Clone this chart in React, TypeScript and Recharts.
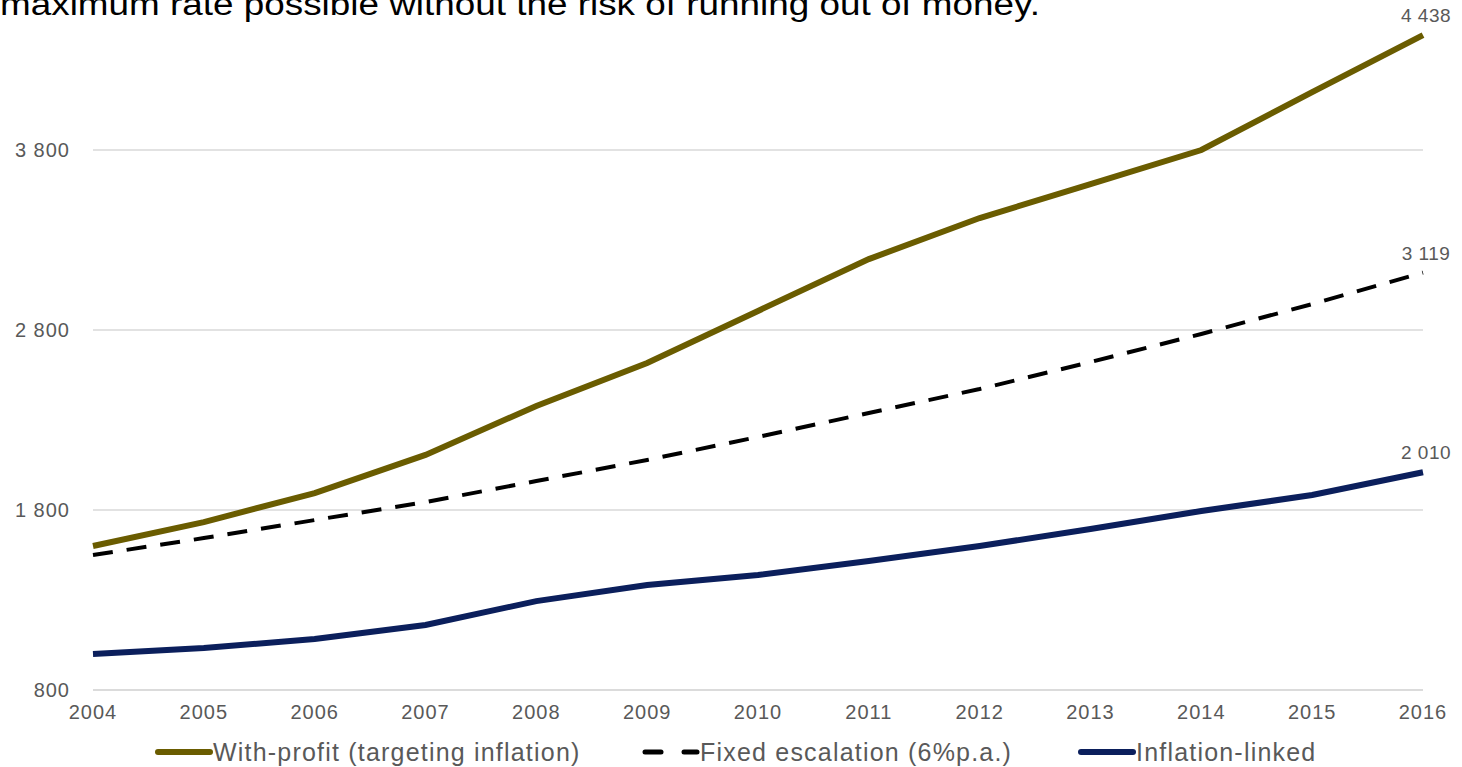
import React from 'react'
import { CartesianGrid, Line, LineChart, XAxis, YAxis } from 'recharts'

const years = [2004, 2005, 2006, 2007, 2008, 2009, 2010, 2011, 2012, 2013, 2014, 2015, 2016]
const withProfit = [1600, 1733, 1894, 2106, 2378, 2617, 2906, 3194, 3422, 3611, 3800, 4122, 4438]
const fixedEscalation = [1550, 1644, 1744, 1844, 1961, 2078, 2206, 2339, 2472, 2622, 2778, 2944, 3119]
const inflationLinked = [1000, 1033, 1083, 1161, 1294, 1383, 1439, 1517, 1600, 1694, 1794, 1883, 2010]
const yTicks = [800, 1800, 2800, 3800, 4800]

const data = years.map((year, i) => ({
  year,
  withProfit: withProfit[i],
  fixed: fixedEscalation[i],
  inflation: inflationLinked[i],
}))

const OLIVE = '#6a5c00'
const NAVY = '#0b1f5c'
const GREY = '#595959'
const FONT = '"Liberation Sans", Arial, sans-serif'

const fmt = (n: number) => String(n).replace(/\B(?=(\d{3})+(?!\d))/g, ' ')

const lastLabel = (props: any) => {
  const { x, y, value, index } = props
  if (index !== years.length - 1) return null
  return (
    <text x={x + 3} y={y - 13} textAnchor="middle" fill={GREY} fontSize={19} fontFamily={FONT} letterSpacing={0.5}>
      {fmt(value)}
    </text>
  )
}

const legendItems = [
  { label: 'With-profit (targeting inflation)', color: OLIVE, dashed: false, x: 155 },
  { label: 'Fixed escalation (6%p.a.)', color: '#000', dashed: true, x: 642 },
  { label: 'Inflation-linked', color: NAVY, dashed: false, x: 1078 },
]

const tickStyle = { fill: GREY, fontSize: 20, fontFamily: FONT, letterSpacing: 1 }

const App = () => {
  return (
    <div style={{ position: 'absolute', left: 0, top: 0, width: 1462, height: 767, overflow: 'hidden', background: '#fff' }}>
      <svg width={1100} height={40} style={{ position: 'absolute', left: 0, top: 0 }}>
        <text x={0} y={15} fontSize={31} fontFamily={FONT} fill="#000" textLength={1040} lengthAdjust="spacingAndGlyphs">
          maximum rate possible without the risk of running out of money.
        </text>
      </svg>

      <div style={{ position: 'absolute', left: 0, top: -60 }}>
        <LineChart width={1462} height={830} data={data} margin={{ top: 30, right: 39, bottom: 50, left: 8 }}>
          <CartesianGrid vertical={false} stroke="#d9d9d9" strokeWidth={1.5} />
          <XAxis
            dataKey="year"
            axisLine={{ stroke: '#d9d9d9', strokeWidth: 1.5 }}
            tickLine={false}
            tickSize={0}
            tickMargin={15}
            height={30}
            tick={tickStyle}
          />
          <YAxis
            domain={[800, 4800]}
            ticks={yTicks}
            axisLine={false}
            tickLine={false}
            tickSize={0}
            tickMargin={23}
            width={85}
            tickFormatter={fmt}
            tick={tickStyle}
          />
          <Line dataKey="withProfit" stroke={OLIVE} strokeWidth={6} dot={false} isAnimationActive={false} label={lastLabel} />
          <Line dataKey="fixed" stroke="#000" strokeWidth={4} strokeDasharray="20 14" dot={false} isAnimationActive={false} label={lastLabel} />
          <Line dataKey="inflation" stroke={NAVY} strokeWidth={6} dot={false} isAnimationActive={false} label={lastLabel} />
        </LineChart>
      </div>

      {legendItems.map((item) => (
        <div key={item.label} style={{ position: 'absolute', left: item.x, top: 737, display: 'flex', alignItems: 'center', height: 30 }}>
          <svg width={58} height={10}>
            {item.dashed ? (
              <>
                <line x1={3} y1={5} x2={19} y2={5} stroke={item.color} strokeWidth={5} strokeLinecap="round" />
                <line x1={42} y1={5} x2={55} y2={5} stroke={item.color} strokeWidth={5} strokeLinecap="round" />
              </>
            ) : (
              <line x1={3} y1={5} x2={55} y2={5} stroke={item.color} strokeWidth={6} strokeLinecap="round" />
            )}
          </svg>
          <span style={{ fontFamily: FONT, fontSize: 25, letterSpacing: 1.2, color: GREY, whiteSpace: 'nowrap' }}>{item.label}</span>
        </div>
      ))}
    </div>
  )
}

export default App
